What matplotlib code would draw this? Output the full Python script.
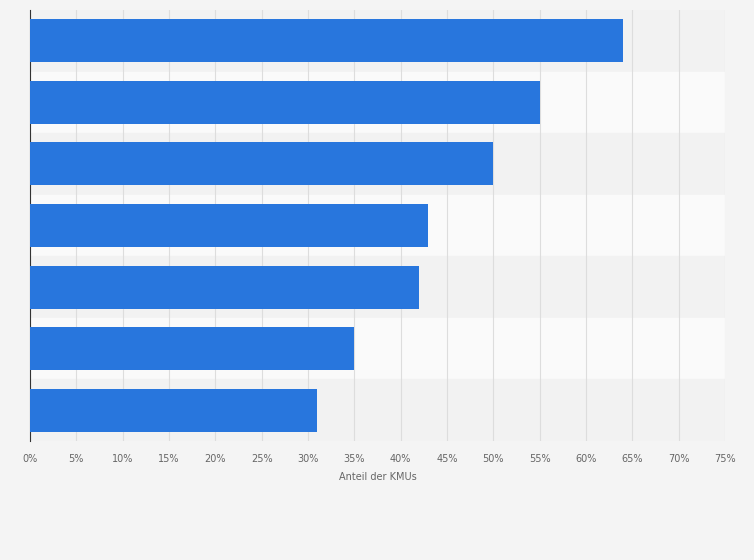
import matplotlib
matplotlib.use("Agg")
import matplotlib.pyplot as plt

values = [64, 55, 50, 43, 42, 35, 31]
ticks = list(range(0, 80, 5))
tick_labels = [f"{t}%" for t in ticks]
xlabel = "Anteil der KMUs"

fig = plt.figure(figsize=(7.54, 5.60), dpi=100)
fig.patch.set_facecolor("#f4f4f4")
ax = fig.add_axes([30/754, 1-441/560, 695/754, 431/560])
ax.set_facecolor("#f4f4f4")
n = len(values)
ypos = list(range(n))[::-1]
for i, y in enumerate(ypos):
    ax.axhspan(y-0.5, y+0.5, color="#f2f2f2" if i % 2 == 0 else "#fafafa", zorder=0)
ax.barh(ypos, values, height=0.7, color="#2876dd", zorder=3)
ax.set_xlim(0, 75)
ax.set_ylim(-0.5, n-0.5)
ax.set_xticks(ticks)
ax.set_xticklabels(tick_labels, fontsize=7, color="#666666")
ax.set_yticks([])
ax.grid(axis="x", color="#dddddd", linewidth=0.8, zorder=1)
for s in ["top", "right", "bottom"]:
    ax.spines[s].set_visible(False)
ax.spines["left"].set_color("#333333")
ax.tick_params(axis="x", length=0, pad=9)
ax.set_xlabel(xlabel, fontsize=7, color="#666666", labelpad=6)
fig.savefig("out.png", dpi=100, facecolor=fig.get_facecolor())
